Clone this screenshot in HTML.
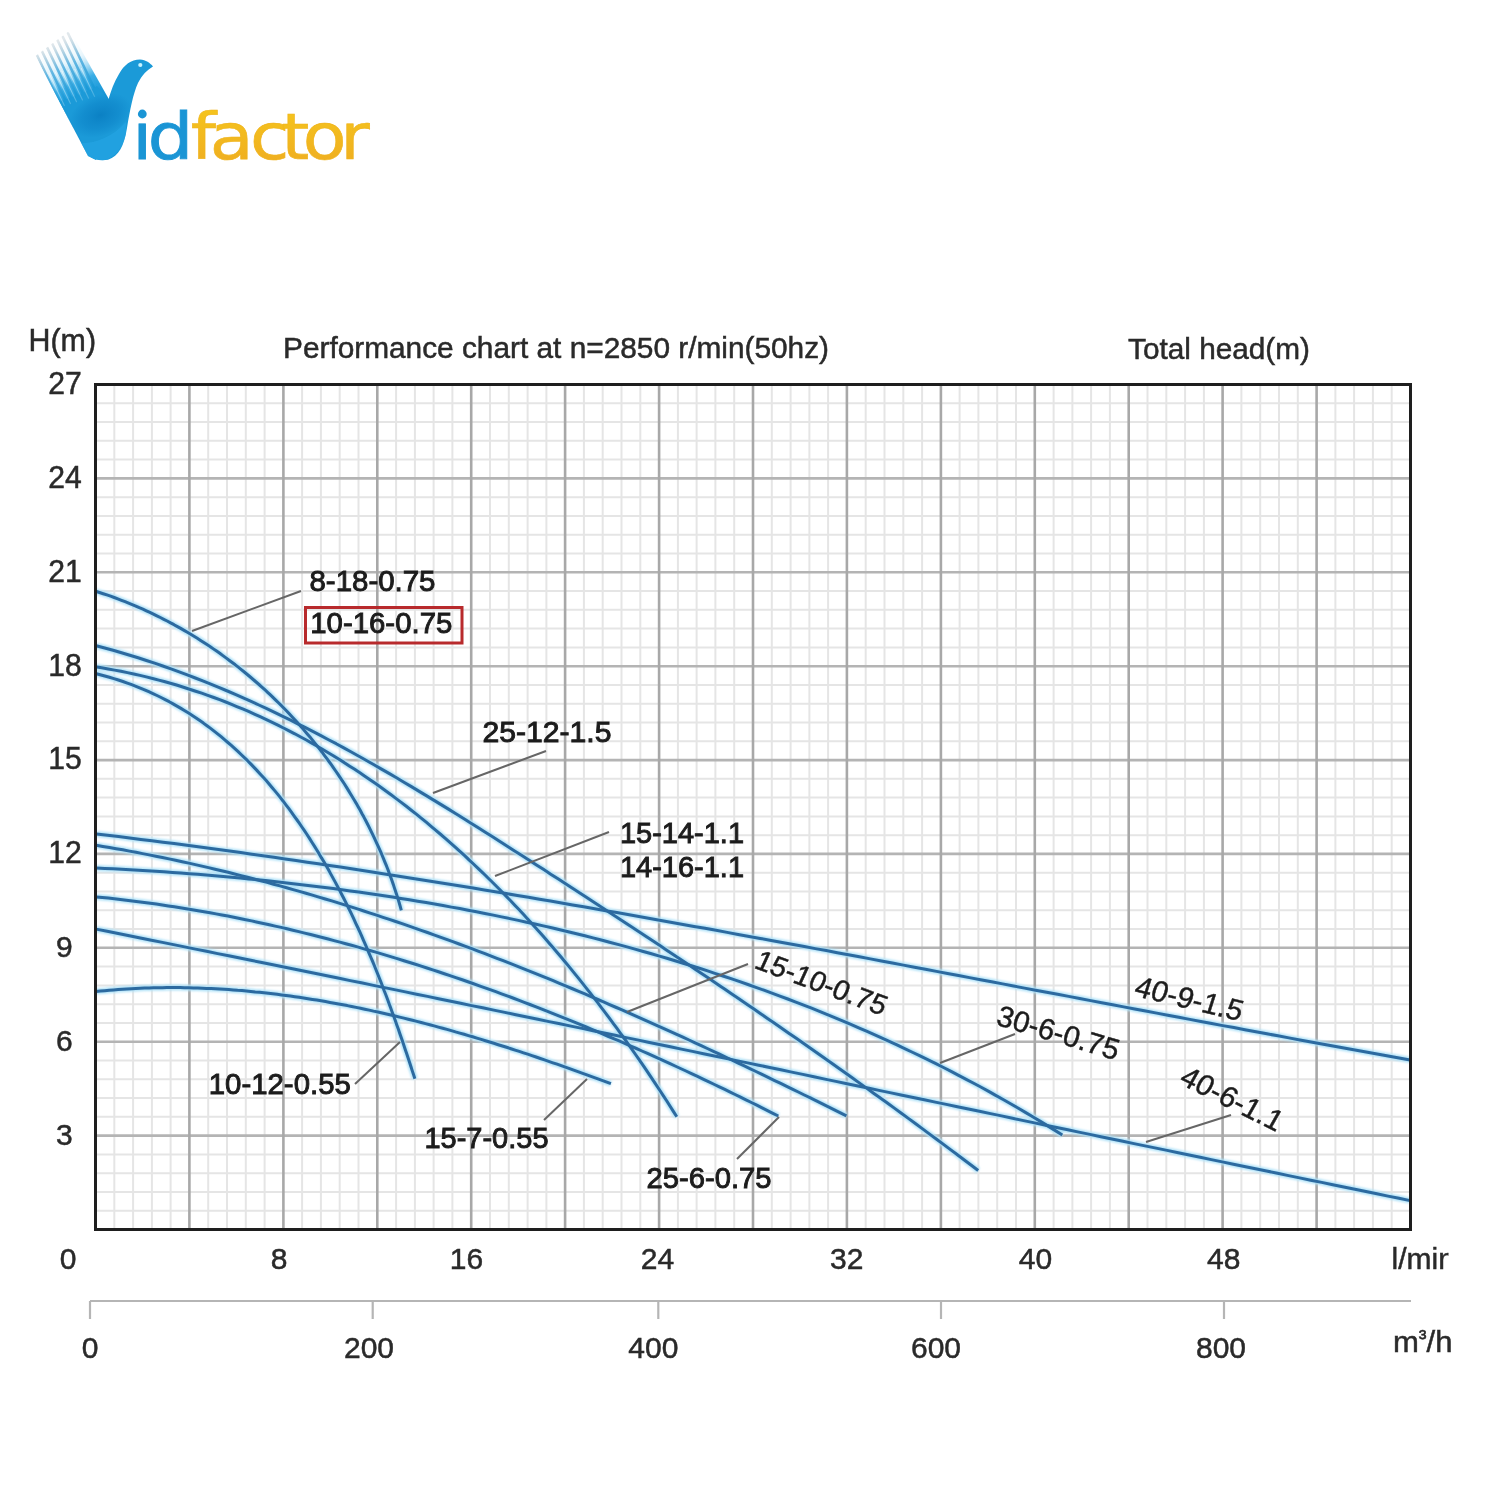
<!DOCTYPE html>
<html><head><meta charset="utf-8"><title>Vidfactor performance chart</title>
<style>
html,body{margin:0;padding:0;background:#fff;}
body{width:1500px;height:1500px;overflow:hidden;}
svg{display:block;}
#wrap{width:1500px;height:1500px;}
.t{font-family:"Liberation Sans",Arial,Helvetica,sans-serif;fill:#2a2a2a;stroke:#2a2a2a;stroke-width:0.5px;}
.lab{fill:#1c1c1c;stroke:#1c1c1c;stroke-width:0.95px;}
</style></head><body>
<div id="wrap"><svg width="1500" height="1500" viewBox="0 0 1500 1500">
<defs>
<linearGradient id="gf" x1="0" y1="0" x2="0" y2="1"><stop offset="0" stop-color="#f6c81c"/><stop offset="1" stop-color="#eeaa22"/></linearGradient>
<linearGradient id="gb" x1="0" y1="0" x2="0" y2="1"><stop offset="0" stop-color="#1ea6e0"/><stop offset="1" stop-color="#1690d0"/></linearGradient>
<linearGradient id="feather" x1="0" y1="0" x2="1" y2="1"><stop offset="0" stop-color="#ffffff" stop-opacity="0"/><stop offset="0.55" stop-color="#6cc4ee"/><stop offset="1" stop-color="#1a9ad8"/></linearGradient>
<filter id="glow" x="-5%" y="-5%" width="110%" height="110%"><feGaussianBlur stdDeviation="1.3"/></filter>
<clipPath id="plotclip"><rect x="95" y="384" width="1316" height="846"/></clipPath>
<clipPath id="rclip"><rect x="0" y="0" width="1448.5" height="1500"/></clipPath>
</defs>
<rect width="1500" height="1500" fill="#fff"/>
<g id="logo">
<clipPath id="armclip"><path d="M35.5,56 L67.5,32 L72,33.5 L109,99.5 L96,160 L88,156 Z"/></clipPath>
<linearGradient id="armg" gradientUnits="userSpaceOnUse" x1="52" y1="44" x2="80" y2="103"><stop offset="0" stop-color="#ffffff" stop-opacity="0"/><stop offset="0.35" stop-color="#bfe6f7" stop-opacity="0.35"/><stop offset="0.7" stop-color="#3aaee6"/><stop offset="1" stop-color="#1896d6"/></linearGradient>
<linearGradient id="featg" gradientUnits="userSpaceOnUse" x1="52" y1="44" x2="80" y2="103"><stop offset="0" stop-color="#aabdc8" stop-opacity="0.35"/><stop offset="0.4" stop-color="#62b6e2"/><stop offset="0.85" stop-color="#1a9ad8"/></linearGradient>
<linearGradient id="streakg" gradientUnits="userSpaceOnUse" x1="52" y1="44" x2="80" y2="103"><stop offset="0.2" stop-color="#ffffff" stop-opacity="0.9"/><stop offset="1" stop-color="#e0f8ff" stop-opacity="0.2"/></linearGradient>
<g clip-path="url(#armclip)">
<rect x="30" y="28" width="90" height="135" fill="url(#armg)"/>
<g stroke="url(#featg)" stroke-width="2.6" stroke-linecap="round" fill="none"><path d="M36.8,54.8 L71.2,127.0"/><path d="M42.0,51.2 L76.4,123.4"/><path d="M47.2,47.6 L81.6,119.8"/><path d="M52.4,44.0 L86.8,116.2"/><path d="M57.6,40.4 L92.0,112.6"/><path d="M62.8,36.8 L97.2,109.0"/><path d="M68.0,33.2 L102.4,105.4"/></g>
</g>
<path d="M60,101 C72,97 86,93 97,86 L108.5,99.5 C111,91 114,82 119,74 C124,65 131,59.6 140,59.6 C146,60 150,63 153,66.5 C147,70 142,75 138,83 C133,94 130,110 127,128 C124,146 119,156 108,159.8 C101,161 94,160 89,155.5 Z" fill="#1b9ad8"/>
<g stroke="url(#streakg)" stroke-width="1.1" stroke-linecap="round" fill="none"><path d="M48.9,72.9 L64.3,105.4"/><path d="M55.3,72.0 L70.4,103.6"/><path d="M61.8,71.1 L76.5,101.8"/><path d="M68.3,70.2 L82.5,100.0"/><path d="M74.8,69.3 L88.6,98.2"/><path d="M81.3,68.4 L94.6,96.4"/></g>
<radialGradient id="wingdark" gradientUnits="userSpaceOnUse" cx="100" cy="116" r="26" gradientTransform="translate(100,116) scale(1.25,0.8) rotate(-18) translate(-100,-116)"><stop offset="0" stop-color="#0678bd" stop-opacity="0.75"/><stop offset="0.6" stop-color="#0a7fc4" stop-opacity="0.45"/><stop offset="1" stop-color="#0a7fc4" stop-opacity="0"/></radialGradient>
<clipPath id="bodyclip"><path d="M60,101 C72,97 86,93 97,86 L108.5,99.5 C111,91 114,82 119,74 C124,65 131,59.6 140,59.6 C146,60 150,63 153,66.5 C147,70 142,75 138,83 C133,94 130,110 127,128 C124,146 119,156 108,159.8 C101,161 94,160 89,155.5 Z M35.5,56 L67.5,32 L72,33.5 L109,99.5 L96,160 L88,156 Z"/></clipPath>
<g clip-path="url(#bodyclip)">
<ellipse cx="98" cy="114" rx="34" ry="22" transform="rotate(-20 98 114)" fill="url(#wingdark)"/>
<path d="M72,142 C88,146 110,140 126,122 L126,136 C120,152 112,160 100,161 C90,160 80,152 72,142 Z" fill="#27a6e6" opacity="0.6"/>
</g>
<circle cx="140.3" cy="65" r="2.1" fill="#c8f3ff"/>
<clipPath id="idclip"><path clip-rule="evenodd" d="M100,90 H400 V175 H100 Z M137,107.5 H148 V120.5 H137 Z"/></clipPath>
<g clip-path="url(#idclip)"><text x="118.0 131.9 170.3 187.2 223.3 251.1 270.3 303.8" y="159" transform="scale(1.12,1)" font-family="'DejaVu Sans',sans-serif" font-size="64" fill="#1a95d5" stroke="#1a95d5" stroke-width="0.9">id<tspan fill="url(#gf)" stroke="#f0b41e" stroke-width="0.6">factor</tspan></text></g>
<circle cx="142.3" cy="114" r="4.4" fill="#1a95d5"/>
</g>
<g stroke="#e5e5e5" stroke-width="2"><line x1="114.3" y1="384.5" x2="114.3" y2="1229.5"/><line x1="133.1" y1="384.5" x2="133.1" y2="1229.5"/><line x1="151.9" y1="384.5" x2="151.9" y2="1229.5"/><line x1="170.6" y1="384.5" x2="170.6" y2="1229.5"/><line x1="208.2" y1="384.5" x2="208.2" y2="1229.5"/><line x1="227.0" y1="384.5" x2="227.0" y2="1229.5"/><line x1="245.8" y1="384.5" x2="245.8" y2="1229.5"/><line x1="264.6" y1="384.5" x2="264.6" y2="1229.5"/><line x1="302.1" y1="384.5" x2="302.1" y2="1229.5"/><line x1="320.9" y1="384.5" x2="320.9" y2="1229.5"/><line x1="339.7" y1="384.5" x2="339.7" y2="1229.5"/><line x1="358.5" y1="384.5" x2="358.5" y2="1229.5"/><line x1="396.1" y1="384.5" x2="396.1" y2="1229.5"/><line x1="414.9" y1="384.5" x2="414.9" y2="1229.5"/><line x1="433.6" y1="384.5" x2="433.6" y2="1229.5"/><line x1="452.4" y1="384.5" x2="452.4" y2="1229.5"/><line x1="490.0" y1="384.5" x2="490.0" y2="1229.5"/><line x1="508.8" y1="384.5" x2="508.8" y2="1229.5"/><line x1="527.6" y1="384.5" x2="527.6" y2="1229.5"/><line x1="546.4" y1="384.5" x2="546.4" y2="1229.5"/><line x1="583.9" y1="384.5" x2="583.9" y2="1229.5"/><line x1="602.7" y1="384.5" x2="602.7" y2="1229.5"/><line x1="621.5" y1="384.5" x2="621.5" y2="1229.5"/><line x1="640.3" y1="384.5" x2="640.3" y2="1229.5"/><line x1="677.9" y1="384.5" x2="677.9" y2="1229.5"/><line x1="696.6" y1="384.5" x2="696.6" y2="1229.5"/><line x1="715.4" y1="384.5" x2="715.4" y2="1229.5"/><line x1="734.2" y1="384.5" x2="734.2" y2="1229.5"/><line x1="771.8" y1="384.5" x2="771.8" y2="1229.5"/><line x1="790.6" y1="384.5" x2="790.6" y2="1229.5"/><line x1="809.4" y1="384.5" x2="809.4" y2="1229.5"/><line x1="828.1" y1="384.5" x2="828.1" y2="1229.5"/><line x1="865.7" y1="384.5" x2="865.7" y2="1229.5"/><line x1="884.5" y1="384.5" x2="884.5" y2="1229.5"/><line x1="903.3" y1="384.5" x2="903.3" y2="1229.5"/><line x1="922.1" y1="384.5" x2="922.1" y2="1229.5"/><line x1="959.6" y1="384.5" x2="959.6" y2="1229.5"/><line x1="978.4" y1="384.5" x2="978.4" y2="1229.5"/><line x1="997.2" y1="384.5" x2="997.2" y2="1229.5"/><line x1="1016.0" y1="384.5" x2="1016.0" y2="1229.5"/><line x1="1053.6" y1="384.5" x2="1053.6" y2="1229.5"/><line x1="1072.4" y1="384.5" x2="1072.4" y2="1229.5"/><line x1="1091.1" y1="384.5" x2="1091.1" y2="1229.5"/><line x1="1109.9" y1="384.5" x2="1109.9" y2="1229.5"/><line x1="1147.5" y1="384.5" x2="1147.5" y2="1229.5"/><line x1="1166.3" y1="384.5" x2="1166.3" y2="1229.5"/><line x1="1185.1" y1="384.5" x2="1185.1" y2="1229.5"/><line x1="1203.9" y1="384.5" x2="1203.9" y2="1229.5"/><line x1="1241.4" y1="384.5" x2="1241.4" y2="1229.5"/><line x1="1260.2" y1="384.5" x2="1260.2" y2="1229.5"/><line x1="1279.0" y1="384.5" x2="1279.0" y2="1229.5"/><line x1="1297.8" y1="384.5" x2="1297.8" y2="1229.5"/><line x1="1335.4" y1="384.5" x2="1335.4" y2="1229.5"/><line x1="1354.1" y1="384.5" x2="1354.1" y2="1229.5"/><line x1="1372.9" y1="384.5" x2="1372.9" y2="1229.5"/><line x1="1391.7" y1="384.5" x2="1391.7" y2="1229.5"/><line x1="95.5" y1="403.3" x2="1410.5" y2="403.3"/><line x1="95.5" y1="422.1" x2="1410.5" y2="422.1"/><line x1="95.5" y1="440.8" x2="1410.5" y2="440.8"/><line x1="95.5" y1="459.6" x2="1410.5" y2="459.6"/><line x1="95.5" y1="497.2" x2="1410.5" y2="497.2"/><line x1="95.5" y1="515.9" x2="1410.5" y2="515.9"/><line x1="95.5" y1="534.7" x2="1410.5" y2="534.7"/><line x1="95.5" y1="553.5" x2="1410.5" y2="553.5"/><line x1="95.5" y1="591.1" x2="1410.5" y2="591.1"/><line x1="95.5" y1="609.8" x2="1410.5" y2="609.8"/><line x1="95.5" y1="628.6" x2="1410.5" y2="628.6"/><line x1="95.5" y1="647.4" x2="1410.5" y2="647.4"/><line x1="95.5" y1="684.9" x2="1410.5" y2="684.9"/><line x1="95.5" y1="703.7" x2="1410.5" y2="703.7"/><line x1="95.5" y1="722.5" x2="1410.5" y2="722.5"/><line x1="95.5" y1="741.3" x2="1410.5" y2="741.3"/><line x1="95.5" y1="778.8" x2="1410.5" y2="778.8"/><line x1="95.5" y1="797.6" x2="1410.5" y2="797.6"/><line x1="95.5" y1="816.4" x2="1410.5" y2="816.4"/><line x1="95.5" y1="835.2" x2="1410.5" y2="835.2"/><line x1="95.5" y1="872.7" x2="1410.5" y2="872.7"/><line x1="95.5" y1="891.5" x2="1410.5" y2="891.5"/><line x1="95.5" y1="910.3" x2="1410.5" y2="910.3"/><line x1="95.5" y1="929.1" x2="1410.5" y2="929.1"/><line x1="95.5" y1="966.6" x2="1410.5" y2="966.6"/><line x1="95.5" y1="985.4" x2="1410.5" y2="985.4"/><line x1="95.5" y1="1004.2" x2="1410.5" y2="1004.2"/><line x1="95.5" y1="1022.9" x2="1410.5" y2="1022.9"/><line x1="95.5" y1="1060.5" x2="1410.5" y2="1060.5"/><line x1="95.5" y1="1079.3" x2="1410.5" y2="1079.3"/><line x1="95.5" y1="1098.1" x2="1410.5" y2="1098.1"/><line x1="95.5" y1="1116.8" x2="1410.5" y2="1116.8"/><line x1="95.5" y1="1154.4" x2="1410.5" y2="1154.4"/><line x1="95.5" y1="1173.2" x2="1410.5" y2="1173.2"/><line x1="95.5" y1="1191.9" x2="1410.5" y2="1191.9"/><line x1="95.5" y1="1210.7" x2="1410.5" y2="1210.7"/></g>
<g stroke="#b4b4b4" stroke-width="2.6"><line x1="95.5" y1="478.4" x2="1410.5" y2="478.4"/><line x1="95.5" y1="572.3" x2="1410.5" y2="572.3"/><line x1="95.5" y1="666.2" x2="1410.5" y2="666.2"/><line x1="95.5" y1="760.1" x2="1410.5" y2="760.1"/><line x1="95.5" y1="853.9" x2="1410.5" y2="853.9"/><line x1="95.5" y1="947.8" x2="1410.5" y2="947.8"/><line x1="95.5" y1="1041.7" x2="1410.5" y2="1041.7"/><line x1="95.5" y1="1135.6" x2="1410.5" y2="1135.6"/></g>
<g stroke="#a8a8a8" stroke-width="2.6"><line x1="189.4" y1="384.5" x2="189.4" y2="1229.5"/><line x1="283.4" y1="384.5" x2="283.4" y2="1229.5"/><line x1="377.3" y1="384.5" x2="377.3" y2="1229.5"/><line x1="471.2" y1="384.5" x2="471.2" y2="1229.5"/><line x1="565.1" y1="384.5" x2="565.1" y2="1229.5"/><line x1="659.1" y1="384.5" x2="659.1" y2="1229.5"/><line x1="753.0" y1="384.5" x2="753.0" y2="1229.5"/><line x1="846.9" y1="384.5" x2="846.9" y2="1229.5"/><line x1="940.9" y1="384.5" x2="940.9" y2="1229.5"/><line x1="1034.8" y1="384.5" x2="1034.8" y2="1229.5"/><line x1="1128.7" y1="384.5" x2="1128.7" y2="1229.5"/><line x1="1222.6" y1="384.5" x2="1222.6" y2="1229.5"/><line x1="1316.6" y1="384.5" x2="1316.6" y2="1229.5"/></g>
<g clip-path="url(#plotclip)" fill="none" stroke-linecap="butt" stroke-linejoin="round">
<g filter="url(#glow)"><path d="M95.8,591.3 L99.5,592.5 L103.2,593.7 L106.9,594.9 L110.6,596.2 L114.2,597.5 L117.8,598.9 L121.5,600.3 L125.1,601.7 L128.6,603.1 L132.2,604.6 L135.8,606.1 L139.3,607.7 L142.9,609.2 L146.4,610.8 L149.9,612.4 L153.4,614.1 L156.9,615.8 L160.3,617.5 L163.8,619.3 L167.2,621.0 L170.6,622.9 L174.0,624.7 L177.4,626.6 L180.7,628.4 L184.1,630.4 L187.4,632.3 L190.7,634.3 L194.0,636.3 L197.3,638.3 L200.6,640.4 L203.8,642.5 L207.0,644.6 L210.3,646.7 L213.4,648.9 L216.6,651.1 L219.8,653.3 L222.9,655.6 L226.0,657.9 L229.1,660.2 L232.2,662.5 L235.3,664.8 L238.3,667.2 L241.3,669.6 L244.3,672.0 L247.3,674.5 L250.3,677.0 L253.2,679.5 L256.1,682.0 L259.0,684.5 L261.9,687.1 L264.8,689.7 L267.6,692.3 L270.4,694.9 L273.2,697.6 L276.0,700.3 L278.7,703.0 L281.5,705.7 L284.2,708.5 L286.9,711.2 L289.5,714.0 L292.2,716.9 L294.8,719.7 L297.4,722.5 L300.0,725.4 L302.5,728.3 L305.0,731.2 L307.5,734.2 L310.0,737.1 L312.5,740.1 L314.9,743.1 L317.3,746.1 L319.7,749.2 L322.1,752.2 L324.4,755.3 L326.7,758.4 L329.0,761.5 L331.3,764.7 L333.5,767.8 L335.7,771.0 L337.9,774.2 L340.0,777.4 L342.2,780.6 L344.3,783.8 L346.4,787.1 L348.4,790.4 L350.4,793.7 L352.4,797.0 L354.4,800.3 L356.4,803.6 L358.3,807.0 L360.2,810.3 L362.0,813.7 L363.9,817.1 L365.7,820.5 L367.5,824.0 L369.2,827.4 L370.9,830.9 L372.6,834.4 L374.3,837.8 L375.9,841.3 L377.5,844.9 L379.1,848.4 L380.7,851.9 L382.2,855.5 L383.7,859.1 L385.1,862.6 L386.6,866.2 L388.0,869.8 L389.3,873.5 L390.7,877.1 L392.0,880.7 L393.3,884.4 L394.5,888.1 L395.7,891.7 L396.9,895.4 L398.1,899.1 L399.2,902.8 L400.3,906.6 L401.3,910.3" stroke="#b0e2f8" stroke-width="6"/>
<path d="M96.2,645.8 L104.7,648.0 L113.1,650.3 L121.5,652.8 L129.8,655.3 L138.1,657.8 L146.4,660.5 L154.6,663.2 L162.8,666.0 L171.0,668.9 L179.2,671.9 L187.3,674.9 L195.3,678.0 L203.4,681.1 L211.4,684.4 L219.4,687.7 L227.4,691.0 L235.3,694.4 L243.2,697.9 L251.1,701.4 L258.9,705.0 L266.8,708.7 L274.6,712.4 L282.3,716.1 L290.1,719.9 L297.8,723.8 L305.5,727.7 L313.2,731.6 L320.9,735.6 L328.5,739.7 L336.2,743.7 L343.8,747.9 L351.3,752.0 L358.9,756.2 L366.5,760.5 L374.0,764.7 L381.5,769.1 L389.0,773.4 L396.5,777.8 L403.9,782.2 L411.4,786.6 L418.8,791.1 L426.3,795.6 L433.7,800.1 L441.1,804.6 L448.5,809.1 L455.9,813.7 L463.2,818.3 L470.6,822.9 L477.9,827.6 L485.3,832.2 L492.6,836.8 L499.9,841.5 L507.3,846.2 L514.6,850.9 L521.9,855.5 L529.2,860.2 L536.5,864.9 L543.8,869.6 L551.1,874.4 L558.4,879.1 L565.6,883.8 L572.9,888.5 L580.2,893.2 L587.5,898.0 L594.7,902.7 L602.0,907.4 L609.2,912.2 L616.5,916.9 L623.7,921.7 L631.0,926.5 L638.2,931.2 L645.4,936.0 L652.7,940.8 L659.9,945.6 L667.1,950.4 L674.3,955.2 L681.5,960.0 L688.7,964.8 L695.9,969.7 L703.1,974.5 L710.3,979.3 L717.4,984.2 L724.6,989.1 L731.8,993.9 L738.9,998.8 L746.1,1003.7 L753.2,1008.6 L760.3,1013.5 L767.5,1018.4 L774.6,1023.3 L781.7,1028.2 L788.8,1033.2 L795.9,1038.1 L803.0,1043.1 L810.1,1048.0 L817.2,1053.0 L824.3,1058.0 L831.4,1063.0 L838.4,1068.0 L845.5,1073.0 L852.5,1078.0 L859.6,1083.1 L866.6,1088.1 L873.6,1093.2 L880.7,1098.2 L887.7,1103.3 L894.7,1108.4 L901.7,1113.5 L908.7,1118.6 L915.7,1123.8 L922.6,1128.9 L929.6,1134.1 L936.6,1139.2 L943.5,1144.4 L950.5,1149.6 L957.4,1154.8 L964.3,1160.0 L971.3,1165.2 L978.2,1170.5" stroke="#b0e2f8" stroke-width="6"/>
<path d="M95.2,666.8 L101.7,667.8 L108.2,668.9 L114.6,670.1 L121.0,671.3 L127.4,672.6 L133.7,674.0 L140.0,675.4 L146.3,676.9 L152.6,678.5 L158.8,680.1 L165.1,681.8 L171.2,683.5 L177.4,685.3 L183.5,687.2 L189.6,689.2 L195.7,691.2 L201.7,693.2 L207.8,695.3 L213.8,697.5 L219.7,699.7 L225.7,702.0 L231.6,704.4 L237.4,706.8 L243.3,709.2 L249.1,711.7 L254.9,714.3 L260.7,716.9 L266.4,719.6 L272.2,722.3 L277.9,725.1 L283.5,728.0 L289.1,730.9 L294.8,733.8 L300.3,736.8 L305.9,739.8 L311.4,742.9 L316.9,746.0 L322.4,749.2 L327.8,752.5 L333.3,755.7 L338.6,759.1 L344.0,762.4 L349.3,765.9 L354.7,769.3 L359.9,772.8 L365.2,776.4 L370.4,780.0 L375.6,783.6 L380.8,787.3 L385.9,791.0 L391.1,794.8 L396.2,798.6 L401.2,802.4 L406.3,806.3 L411.3,810.2 L416.3,814.2 L421.2,818.2 L426.2,822.2 L431.1,826.3 L435.9,830.4 L440.8,834.5 L445.6,838.7 L450.4,842.9 L455.2,847.1 L459.9,851.4 L464.7,855.7 L469.3,860.1 L474.0,864.5 L478.6,868.9 L483.3,873.3 L487.8,877.8 L492.4,882.3 L496.9,886.8 L501.4,891.3 L505.9,895.9 L510.4,900.5 L514.8,905.2 L519.2,909.8 L523.6,914.5 L527.9,919.2 L532.2,924.0 L536.5,928.7 L540.8,933.5 L545.0,938.3 L549.2,943.2 L553.4,948.0 L557.6,952.9 L561.7,957.8 L565.8,962.7 L569.9,967.6 L573.9,972.6 L578.0,977.6 L582.0,982.6 L585.9,987.6 L589.9,992.6 L593.8,997.6 L597.7,1002.7 L601.6,1007.8 L605.4,1012.8 L609.2,1017.9 L613.0,1023.1 L616.8,1028.2 L620.5,1033.3 L624.3,1038.5 L627.9,1043.6 L631.6,1048.8 L635.2,1054.0 L638.8,1059.2 L642.4,1064.4 L646.0,1069.6 L649.5,1074.8 L653.0,1080.1 L656.5,1085.3 L659.9,1090.5 L663.4,1095.8 L666.8,1101.0 L670.1,1106.3 L673.5,1111.6 L676.8,1116.8" stroke="#b0e2f8" stroke-width="6"/>
<path d="M95.5,673.5 L100.2,674.7 L104.8,676.0 L109.4,677.2 L113.9,678.6 L118.4,680.0 L122.9,681.5 L127.3,683.1 L131.7,684.7 L136.0,686.3 L140.3,688.1 L144.6,689.8 L148.8,691.7 L152.9,693.6 L157.0,695.5 L161.1,697.5 L165.2,699.6 L169.2,701.7 L173.1,703.9 L177.0,706.1 L180.9,708.4 L184.8,710.7 L188.6,713.1 L192.3,715.5 L196.1,718.0 L199.8,720.6 L203.4,723.1 L207.0,725.8 L210.6,728.4 L214.1,731.1 L217.6,733.9 L221.1,736.7 L224.5,739.6 L227.9,742.5 L231.3,745.4 L234.6,748.4 L237.9,751.4 L241.1,754.5 L244.4,757.6 L247.6,760.7 L250.7,763.9 L253.8,767.1 L256.9,770.4 L259.9,773.7 L263.0,777.0 L266.0,780.3 L268.9,783.7 L271.8,787.2 L274.7,790.6 L277.6,794.1 L280.4,797.7 L283.2,801.2 L285.9,804.8 L288.7,808.4 L291.4,812.1 L294.0,815.8 L296.7,819.5 L299.3,823.2 L301.9,827.0 L304.4,830.7 L307.0,834.5 L309.5,838.4 L311.9,842.2 L314.4,846.1 L316.8,850.0 L319.2,853.9 L321.5,857.9 L323.9,861.8 L326.2,865.8 L328.5,869.8 L330.7,873.9 L332.9,877.9 L335.1,881.9 L337.3,886.0 L339.5,890.1 L341.6,894.2 L343.7,898.3 L345.8,902.4 L347.8,906.6 L349.9,910.7 L351.9,914.9 L353.9,919.1 L355.8,923.3 L357.8,927.5 L359.7,931.7 L361.6,935.9 L363.4,940.1 L365.3,944.3 L367.1,948.5 L368.9,952.8 L370.7,957.0 L372.5,961.2 L374.3,965.5 L376.0,969.7 L377.7,974.0 L379.4,978.2 L381.1,982.5 L382.7,986.7 L384.3,991.0 L386.0,995.2 L387.6,999.5 L389.1,1003.7 L390.7,1008.0 L392.2,1012.2 L393.8,1016.4 L395.3,1020.6 L396.8,1024.9 L398.3,1029.1 L399.7,1033.3 L401.2,1037.5 L402.6,1041.6 L404.0,1045.8 L405.4,1050.0 L406.8,1054.1 L408.2,1058.3 L409.6,1062.4 L410.9,1066.5 L412.2,1070.6 L413.6,1074.7 L414.9,1078.7" stroke="#b0e2f8" stroke-width="6"/>
<path d="M96.4,833.9 L107.5,835.2 L118.6,836.6 L129.7,838.0 L140.8,839.4 L151.9,840.8 L163.0,842.2 L174.1,843.6 L185.2,845.1 L196.3,846.6 L207.4,848.1 L218.5,849.6 L229.6,851.1 L240.7,852.6 L251.8,854.2 L262.9,855.8 L274.0,857.3 L285.1,858.9 L296.1,860.6 L307.2,862.2 L318.3,863.8 L329.4,865.5 L340.4,867.1 L351.5,868.8 L362.6,870.5 L373.7,872.2 L384.7,873.9 L395.8,875.7 L406.8,877.4 L417.9,879.2 L429.0,880.9 L440.0,882.7 L451.1,884.5 L462.1,886.3 L473.2,888.1 L484.3,889.9 L495.3,891.8 L506.4,893.6 L517.4,895.5 L528.5,897.3 L539.5,899.2 L550.5,901.1 L561.6,903.0 L572.6,904.9 L583.7,906.8 L594.7,908.7 L605.7,910.7 L616.8,912.6 L627.8,914.5 L638.9,916.5 L649.9,918.4 L660.9,920.4 L672.0,922.4 L683.0,924.4 L694.0,926.4 L705.0,928.3 L716.1,930.3 L727.1,932.4 L738.1,934.4 L749.2,936.4 L760.2,938.4 L771.2,940.4 L782.2,942.5 L793.3,944.5 L804.3,946.5 L815.3,948.6 L826.3,950.6 L837.3,952.7 L848.4,954.8 L859.4,956.8 L870.4,958.9 L881.4,961.0 L892.4,963.0 L903.4,965.1 L914.5,967.2 L925.5,969.3 L936.5,971.4 L947.5,973.4 L958.5,975.5 L969.5,977.6 L980.5,979.7 L991.6,981.8 L1002.6,983.9 L1013.6,986.0 L1024.6,988.1 L1035.6,990.2 L1046.6,992.2 L1057.6,994.3 L1068.7,996.4 L1079.7,998.5 L1090.7,1000.6 L1101.7,1002.7 L1112.7,1004.8 L1123.7,1006.9 L1134.7,1009.0 L1145.7,1011.0 L1156.8,1013.1 L1167.8,1015.2 L1178.8,1017.3 L1189.8,1019.4 L1200.8,1021.4 L1211.8,1023.5 L1222.8,1025.6 L1233.9,1027.6 L1244.9,1029.7 L1255.9,1031.7 L1266.9,1033.8 L1277.9,1035.8 L1288.9,1037.9 L1299.9,1039.9 L1311.0,1041.9 L1322.0,1044.0 L1333.0,1046.0 L1344.0,1048.0 L1355.0,1050.0 L1366.1,1052.0 L1377.1,1054.0 L1388.1,1056.0 L1399.1,1058.0 L1410.1,1060.0" stroke="#b0e2f8" stroke-width="6"/>
<path d="M96.2,845.3 L102.8,846.4 L109.5,847.5 L116.1,848.7 L122.8,849.8 L129.4,851.1 L136.0,852.3 L142.6,853.6 L149.2,854.9 L155.9,856.2 L162.4,857.5 L169.0,858.9 L175.6,860.3 L182.2,861.7 L188.8,863.1 L195.3,864.6 L201.9,866.1 L208.5,867.6 L215.0,869.2 L221.5,870.8 L228.1,872.3 L234.6,874.0 L241.1,875.6 L247.6,877.3 L254.1,879.0 L260.7,880.7 L267.1,882.4 L273.6,884.2 L280.1,885.9 L286.6,887.7 L293.1,889.6 L299.5,891.4 L306.0,893.3 L312.4,895.1 L318.9,897.1 L325.3,899.0 L331.8,900.9 L338.2,902.9 L344.6,904.9 L351.0,906.9 L357.4,908.9 L363.8,911.0 L370.2,913.1 L376.6,915.1 L383.0,917.3 L389.4,919.4 L395.7,921.5 L402.1,923.7 L408.5,925.9 L414.8,928.1 L421.2,930.3 L427.5,932.5 L433.9,934.8 L440.2,937.1 L446.5,939.4 L452.8,941.7 L459.1,944.0 L465.5,946.3 L471.8,948.7 L478.1,951.1 L484.3,953.4 L490.6,955.9 L496.9,958.3 L503.2,960.7 L509.5,963.2 L515.7,965.6 L522.0,968.1 L528.2,970.6 L534.5,973.1 L540.7,975.6 L547.0,978.2 L553.2,980.7 L559.4,983.3 L565.6,985.9 L571.9,988.5 L578.1,991.1 L584.3,993.7 L590.5,996.3 L596.7,999.0 L602.9,1001.6 L609.0,1004.3 L615.2,1007.0 L621.4,1009.7 L627.6,1012.4 L633.7,1015.1 L639.9,1017.8 L646.0,1020.6 L652.2,1023.3 L658.3,1026.1 L664.5,1028.9 L670.6,1031.6 L676.7,1034.4 L682.9,1037.2 L689.0,1040.0 L695.1,1042.9 L701.2,1045.7 L707.3,1048.5 L713.4,1051.4 L719.5,1054.2 L725.6,1057.1 L731.7,1060.0 L737.7,1062.8 L743.8,1065.7 L749.9,1068.6 L756.0,1071.5 L762.0,1074.4 L768.1,1077.4 L774.1,1080.3 L780.2,1083.2 L786.2,1086.1 L792.3,1089.1 L798.3,1092.0 L804.3,1095.0 L810.4,1097.9 L816.4,1100.9 L822.4,1103.9 L828.4,1106.9 L834.4,1109.8 L840.4,1112.8 L846.4,1115.8" stroke="#b0e2f8" stroke-width="6"/>
<path d="M96.3,868.0 L104.7,868.4 L113.2,868.8 L121.6,869.3 L130.1,869.7 L138.6,870.2 L147.0,870.7 L155.5,871.3 L163.9,871.8 L172.4,872.4 L180.9,873.0 L189.4,873.7 L197.8,874.3 L206.3,875.0 L214.8,875.7 L223.2,876.5 L231.7,877.2 L240.2,878.0 L248.7,878.9 L257.1,879.7 L265.6,880.6 L274.1,881.5 L282.6,882.4 L291.0,883.4 L299.5,884.4 L308.0,885.4 L316.4,886.4 L324.9,887.5 L333.3,888.6 L341.8,889.7 L350.2,890.9 L358.7,892.0 L367.1,893.3 L375.6,894.5 L384.0,895.8 L392.5,897.1 L400.9,898.4 L409.3,899.8 L417.7,901.2 L426.1,902.6 L434.6,904.1 L443.0,905.5 L451.4,907.1 L459.8,908.6 L468.1,910.2 L476.5,911.8 L484.9,913.5 L493.3,915.1 L501.6,916.9 L510.0,918.6 L518.3,920.4 L526.6,922.2 L535.0,924.0 L543.3,925.9 L551.6,927.8 L559.9,929.8 L568.2,931.8 L576.5,933.8 L584.8,935.8 L593.0,937.9 L601.3,940.0 L609.5,942.2 L617.7,944.4 L626.0,946.6 L634.2,948.9 L642.4,951.2 L650.6,953.5 L658.7,955.9 L666.9,958.3 L675.1,960.8 L683.2,963.2 L691.3,965.8 L699.5,968.3 L707.6,970.9 L715.6,973.6 L723.7,976.2 L731.8,978.9 L739.8,981.7 L747.9,984.5 L755.9,987.3 L763.9,990.2 L771.9,993.1 L779.9,996.1 L787.8,999.0 L795.8,1002.1 L803.7,1005.1 L811.6,1008.2 L819.5,1011.4 L827.4,1014.6 L835.3,1017.8 L843.1,1021.1 L850.9,1024.4 L858.7,1027.8 L866.5,1031.2 L874.3,1034.6 L882.1,1038.1 L889.8,1041.6 L897.5,1045.2 L905.2,1048.8 L912.9,1052.5 L920.6,1056.2 L928.2,1059.9 L935.9,1063.7 L943.5,1067.5 L951.1,1071.4 L958.6,1075.3 L966.2,1079.3 L973.7,1083.3 L981.2,1087.3 L988.7,1091.4 L996.1,1095.6 L1003.6,1099.8 L1011.0,1104.0 L1018.4,1108.3 L1025.8,1112.6 L1033.1,1117.0 L1040.4,1121.4 L1047.7,1125.9 L1055.0,1130.4 L1062.3,1135.0" stroke="#b0e2f8" stroke-width="6"/>
<path d="M96.2,896.9 L102.2,897.5 L108.3,898.1 L114.3,898.8 L120.3,899.5 L126.3,900.2 L132.3,900.9 L138.3,901.7 L144.3,902.4 L150.3,903.3 L156.3,904.1 L162.3,905.0 L168.3,905.9 L174.3,906.8 L180.2,907.7 L186.2,908.7 L192.2,909.7 L198.1,910.7 L204.1,911.7 L210.1,912.8 L216.0,913.9 L221.9,915.0 L227.9,916.1 L233.8,917.3 L239.8,918.5 L245.7,919.7 L251.6,920.9 L257.5,922.2 L263.4,923.5 L269.3,924.8 L275.2,926.1 L281.1,927.4 L287.0,928.8 L292.9,930.2 L298.8,931.6 L304.7,933.1 L310.6,934.5 L316.4,936.0 L322.3,937.5 L328.2,939.0 L334.0,940.6 L339.9,942.1 L345.7,943.7 L351.5,945.3 L357.4,946.9 L363.2,948.6 L369.0,950.3 L374.9,951.9 L380.7,953.6 L386.5,955.4 L392.3,957.1 L398.1,958.9 L403.9,960.7 L409.7,962.5 L415.4,964.3 L421.2,966.1 L427.0,968.0 L432.7,969.9 L438.5,971.8 L444.3,973.7 L450.0,975.6 L455.8,977.6 L461.5,979.5 L467.2,981.5 L472.9,983.5 L478.7,985.6 L484.4,987.6 L490.1,989.7 L495.8,991.7 L501.5,993.8 L507.2,995.9 L512.9,998.0 L518.5,1000.2 L524.2,1002.3 L529.9,1004.5 L535.5,1006.7 L541.2,1008.9 L546.9,1011.1 L552.5,1013.3 L558.1,1015.6 L563.8,1017.8 L569.4,1020.1 L575.0,1022.4 L580.6,1024.7 L586.2,1027.0 L591.8,1029.4 L597.4,1031.7 L603.0,1034.1 L608.6,1036.5 L614.2,1038.8 L619.7,1041.2 L625.3,1043.7 L630.8,1046.1 L636.4,1048.5 L641.9,1051.0 L647.5,1053.4 L653.0,1055.9 L658.5,1058.4 L664.0,1060.9 L669.5,1063.4 L675.1,1066.0 L680.5,1068.5 L686.0,1071.0 L691.5,1073.6 L697.0,1076.2 L702.5,1078.8 L707.9,1081.4 L713.4,1084.0 L718.8,1086.6 L724.3,1089.2 L729.7,1091.8 L735.1,1094.5 L740.5,1097.1 L746.0,1099.8 L751.4,1102.5 L756.8,1105.2 L762.1,1107.9 L767.5,1110.6 L772.9,1113.3 L778.3,1116.0" stroke="#b0e2f8" stroke-width="6"/>
<path d="M96.1,929.1 L107.2,931.3 L118.2,933.5 L129.3,935.7 L140.3,938.0 L151.4,940.2 L162.4,942.4 L173.5,944.6 L184.5,946.9 L195.6,949.1 L206.6,951.3 L217.7,953.6 L228.7,955.8 L239.8,958.0 L250.8,960.3 L261.8,962.5 L272.9,964.8 L283.9,967.0 L295.0,969.3 L306.0,971.5 L317.1,973.8 L328.1,976.0 L339.2,978.3 L350.2,980.6 L361.3,982.8 L372.3,985.1 L383.3,987.4 L394.4,989.6 L405.4,991.9 L416.5,994.2 L427.5,996.4 L438.5,998.7 L449.6,1001.0 L460.6,1003.3 L471.7,1005.6 L482.7,1007.8 L493.8,1010.1 L504.8,1012.4 L515.8,1014.7 L526.9,1017.0 L537.9,1019.3 L549.0,1021.6 L560.0,1023.8 L571.0,1026.1 L582.1,1028.4 L593.1,1030.7 L604.2,1033.0 L615.2,1035.3 L626.2,1037.6 L637.3,1039.9 L648.3,1042.2 L659.3,1044.5 L670.4,1046.8 L681.4,1049.1 L692.5,1051.4 L703.5,1053.7 L714.5,1056.0 L725.6,1058.3 L736.6,1060.6 L747.6,1062.9 L758.7,1065.2 L769.7,1067.5 L780.8,1069.8 L791.8,1072.1 L802.8,1074.4 L813.9,1076.7 L824.9,1079.1 L835.9,1081.4 L847.0,1083.7 L858.0,1086.0 L869.1,1088.3 L880.1,1090.6 L891.1,1092.9 L902.2,1095.2 L913.2,1097.5 L924.3,1099.8 L935.3,1102.1 L946.3,1104.4 L957.4,1106.7 L968.4,1109.0 L979.4,1111.3 L990.5,1113.6 L1001.5,1115.9 L1012.6,1118.3 L1023.6,1120.6 L1034.6,1122.9 L1045.7,1125.2 L1056.7,1127.5 L1067.8,1129.8 L1078.8,1132.1 L1089.8,1134.4 L1100.9,1136.7 L1111.9,1139.0 L1123.0,1141.3 L1134.0,1143.6 L1145.0,1145.9 L1156.1,1148.1 L1167.1,1150.4 L1178.2,1152.7 L1189.2,1155.0 L1200.2,1157.3 L1211.3,1159.6 L1222.3,1161.9 L1233.4,1164.2 L1244.4,1166.5 L1255.5,1168.8 L1266.5,1171.0 L1277.5,1173.3 L1288.6,1175.6 L1299.6,1177.9 L1310.7,1180.2 L1321.7,1182.4 L1332.8,1184.7 L1343.8,1187.0 L1354.9,1189.2 L1365.9,1191.5 L1376.9,1193.8 L1388.0,1196.1 L1399.0,1198.3 L1410.1,1200.6" stroke="#b0e2f8" stroke-width="6"/>
<path d="M95.9,991.6 L100.3,991.1 L104.8,990.7 L109.2,990.3 L113.6,989.9 L118.1,989.6 L122.5,989.3 L126.9,989.0 L131.4,988.7 L135.8,988.5 L140.2,988.3 L144.7,988.1 L149.1,988.0 L153.5,987.8 L157.9,987.7 L162.4,987.7 L166.8,987.6 L171.2,987.6 L175.7,987.6 L180.1,987.6 L184.5,987.7 L188.9,987.8 L193.4,987.9 L197.8,988.0 L202.2,988.2 L206.6,988.4 L211.1,988.6 L215.5,988.8 L219.9,989.0 L224.3,989.3 L228.7,989.6 L233.2,989.9 L237.6,990.3 L242.0,990.6 L246.4,991.0 L250.8,991.4 L255.2,991.9 L259.6,992.3 L264.0,992.8 L268.4,993.3 L272.8,993.8 L277.2,994.3 L281.6,994.9 L286.0,995.5 L290.4,996.1 L294.8,996.7 L299.2,997.3 L303.6,998.0 L308.0,998.7 L312.4,999.4 L316.8,1000.1 L321.1,1000.8 L325.5,1001.6 L329.9,1002.4 L334.3,1003.2 L338.6,1004.0 L343.0,1004.8 L347.4,1005.6 L351.7,1006.5 L356.1,1007.4 L360.5,1008.3 L364.8,1009.2 L369.2,1010.1 L373.5,1011.1 L377.9,1012.0 L382.2,1013.0 L386.5,1014.0 L390.9,1015.0 L395.2,1016.0 L399.6,1017.1 L403.9,1018.1 L408.2,1019.2 L412.5,1020.3 L416.8,1021.4 L421.2,1022.5 L425.5,1023.6 L429.8,1024.7 L434.1,1025.9 L438.4,1027.1 L442.7,1028.2 L447.0,1029.4 L451.3,1030.6 L455.5,1031.9 L459.8,1033.1 L464.1,1034.3 L468.4,1035.6 L472.6,1036.8 L476.9,1038.1 L481.2,1039.4 L485.4,1040.7 L489.7,1042.0 L493.9,1043.3 L498.2,1044.7 L502.4,1046.0 L506.6,1047.3 L510.9,1048.7 L515.1,1050.1 L519.3,1051.4 L523.5,1052.8 L527.7,1054.2 L531.9,1055.6 L536.1,1057.0 L540.3,1058.5 L544.5,1059.9 L548.7,1061.3 L552.9,1062.8 L557.1,1064.2 L561.2,1065.7 L565.4,1067.2 L569.6,1068.6 L573.7,1070.1 L577.9,1071.6 L582.0,1073.1 L586.2,1074.6 L590.3,1076.1 L594.4,1077.6 L598.6,1079.1 L602.7,1080.6 L606.8,1082.2 L610.9,1083.7" stroke="#b0e2f8" stroke-width="6"/>
</g><path d="M95.8,591.3 L99.5,592.5 L103.2,593.7 L106.9,594.9 L110.6,596.2 L114.2,597.5 L117.8,598.9 L121.5,600.3 L125.1,601.7 L128.6,603.1 L132.2,604.6 L135.8,606.1 L139.3,607.7 L142.9,609.2 L146.4,610.8 L149.9,612.4 L153.4,614.1 L156.9,615.8 L160.3,617.5 L163.8,619.3 L167.2,621.0 L170.6,622.9 L174.0,624.7 L177.4,626.6 L180.7,628.4 L184.1,630.4 L187.4,632.3 L190.7,634.3 L194.0,636.3 L197.3,638.3 L200.6,640.4 L203.8,642.5 L207.0,644.6 L210.3,646.7 L213.4,648.9 L216.6,651.1 L219.8,653.3 L222.9,655.6 L226.0,657.9 L229.1,660.2 L232.2,662.5 L235.3,664.8 L238.3,667.2 L241.3,669.6 L244.3,672.0 L247.3,674.5 L250.3,677.0 L253.2,679.5 L256.1,682.0 L259.0,684.5 L261.9,687.1 L264.8,689.7 L267.6,692.3 L270.4,694.9 L273.2,697.6 L276.0,700.3 L278.7,703.0 L281.5,705.7 L284.2,708.5 L286.9,711.2 L289.5,714.0 L292.2,716.9 L294.8,719.7 L297.4,722.5 L300.0,725.4 L302.5,728.3 L305.0,731.2 L307.5,734.2 L310.0,737.1 L312.5,740.1 L314.9,743.1 L317.3,746.1 L319.7,749.2 L322.1,752.2 L324.4,755.3 L326.7,758.4 L329.0,761.5 L331.3,764.7 L333.5,767.8 L335.7,771.0 L337.9,774.2 L340.0,777.4 L342.2,780.6 L344.3,783.8 L346.4,787.1 L348.4,790.4 L350.4,793.7 L352.4,797.0 L354.4,800.3 L356.4,803.6 L358.3,807.0 L360.2,810.3 L362.0,813.7 L363.9,817.1 L365.7,820.5 L367.5,824.0 L369.2,827.4 L370.9,830.9 L372.6,834.4 L374.3,837.8 L375.9,841.3 L377.5,844.9 L379.1,848.4 L380.7,851.9 L382.2,855.5 L383.7,859.1 L385.1,862.6 L386.6,866.2 L388.0,869.8 L389.3,873.5 L390.7,877.1 L392.0,880.7 L393.3,884.4 L394.5,888.1 L395.7,891.7 L396.9,895.4 L398.1,899.1 L399.2,902.8 L400.3,906.6 L401.3,910.3" stroke="#2c6aa0" stroke-width="3"/>
<path d="M96.2,645.8 L104.7,648.0 L113.1,650.3 L121.5,652.8 L129.8,655.3 L138.1,657.8 L146.4,660.5 L154.6,663.2 L162.8,666.0 L171.0,668.9 L179.2,671.9 L187.3,674.9 L195.3,678.0 L203.4,681.1 L211.4,684.4 L219.4,687.7 L227.4,691.0 L235.3,694.4 L243.2,697.9 L251.1,701.4 L258.9,705.0 L266.8,708.7 L274.6,712.4 L282.3,716.1 L290.1,719.9 L297.8,723.8 L305.5,727.7 L313.2,731.6 L320.9,735.6 L328.5,739.7 L336.2,743.7 L343.8,747.9 L351.3,752.0 L358.9,756.2 L366.5,760.5 L374.0,764.7 L381.5,769.1 L389.0,773.4 L396.5,777.8 L403.9,782.2 L411.4,786.6 L418.8,791.1 L426.3,795.6 L433.7,800.1 L441.1,804.6 L448.5,809.1 L455.9,813.7 L463.2,818.3 L470.6,822.9 L477.9,827.6 L485.3,832.2 L492.6,836.8 L499.9,841.5 L507.3,846.2 L514.6,850.9 L521.9,855.5 L529.2,860.2 L536.5,864.9 L543.8,869.6 L551.1,874.4 L558.4,879.1 L565.6,883.8 L572.9,888.5 L580.2,893.2 L587.5,898.0 L594.7,902.7 L602.0,907.4 L609.2,912.2 L616.5,916.9 L623.7,921.7 L631.0,926.5 L638.2,931.2 L645.4,936.0 L652.7,940.8 L659.9,945.6 L667.1,950.4 L674.3,955.2 L681.5,960.0 L688.7,964.8 L695.9,969.7 L703.1,974.5 L710.3,979.3 L717.4,984.2 L724.6,989.1 L731.8,993.9 L738.9,998.8 L746.1,1003.7 L753.2,1008.6 L760.3,1013.5 L767.5,1018.4 L774.6,1023.3 L781.7,1028.2 L788.8,1033.2 L795.9,1038.1 L803.0,1043.1 L810.1,1048.0 L817.2,1053.0 L824.3,1058.0 L831.4,1063.0 L838.4,1068.0 L845.5,1073.0 L852.5,1078.0 L859.6,1083.1 L866.6,1088.1 L873.6,1093.2 L880.7,1098.2 L887.7,1103.3 L894.7,1108.4 L901.7,1113.5 L908.7,1118.6 L915.7,1123.8 L922.6,1128.9 L929.6,1134.1 L936.6,1139.2 L943.5,1144.4 L950.5,1149.6 L957.4,1154.8 L964.3,1160.0 L971.3,1165.2 L978.2,1170.5" stroke="#2c6aa0" stroke-width="3"/>
<path d="M95.2,666.8 L101.7,667.8 L108.2,668.9 L114.6,670.1 L121.0,671.3 L127.4,672.6 L133.7,674.0 L140.0,675.4 L146.3,676.9 L152.6,678.5 L158.8,680.1 L165.1,681.8 L171.2,683.5 L177.4,685.3 L183.5,687.2 L189.6,689.2 L195.7,691.2 L201.7,693.2 L207.8,695.3 L213.8,697.5 L219.7,699.7 L225.7,702.0 L231.6,704.4 L237.4,706.8 L243.3,709.2 L249.1,711.7 L254.9,714.3 L260.7,716.9 L266.4,719.6 L272.2,722.3 L277.9,725.1 L283.5,728.0 L289.1,730.9 L294.8,733.8 L300.3,736.8 L305.9,739.8 L311.4,742.9 L316.9,746.0 L322.4,749.2 L327.8,752.5 L333.3,755.7 L338.6,759.1 L344.0,762.4 L349.3,765.9 L354.7,769.3 L359.9,772.8 L365.2,776.4 L370.4,780.0 L375.6,783.6 L380.8,787.3 L385.9,791.0 L391.1,794.8 L396.2,798.6 L401.2,802.4 L406.3,806.3 L411.3,810.2 L416.3,814.2 L421.2,818.2 L426.2,822.2 L431.1,826.3 L435.9,830.4 L440.8,834.5 L445.6,838.7 L450.4,842.9 L455.2,847.1 L459.9,851.4 L464.7,855.7 L469.3,860.1 L474.0,864.5 L478.6,868.9 L483.3,873.3 L487.8,877.8 L492.4,882.3 L496.9,886.8 L501.4,891.3 L505.9,895.9 L510.4,900.5 L514.8,905.2 L519.2,909.8 L523.6,914.5 L527.9,919.2 L532.2,924.0 L536.5,928.7 L540.8,933.5 L545.0,938.3 L549.2,943.2 L553.4,948.0 L557.6,952.9 L561.7,957.8 L565.8,962.7 L569.9,967.6 L573.9,972.6 L578.0,977.6 L582.0,982.6 L585.9,987.6 L589.9,992.6 L593.8,997.6 L597.7,1002.7 L601.6,1007.8 L605.4,1012.8 L609.2,1017.9 L613.0,1023.1 L616.8,1028.2 L620.5,1033.3 L624.3,1038.5 L627.9,1043.6 L631.6,1048.8 L635.2,1054.0 L638.8,1059.2 L642.4,1064.4 L646.0,1069.6 L649.5,1074.8 L653.0,1080.1 L656.5,1085.3 L659.9,1090.5 L663.4,1095.8 L666.8,1101.0 L670.1,1106.3 L673.5,1111.6 L676.8,1116.8" stroke="#2c6aa0" stroke-width="3"/>
<path d="M95.5,673.5 L100.2,674.7 L104.8,676.0 L109.4,677.2 L113.9,678.6 L118.4,680.0 L122.9,681.5 L127.3,683.1 L131.7,684.7 L136.0,686.3 L140.3,688.1 L144.6,689.8 L148.8,691.7 L152.9,693.6 L157.0,695.5 L161.1,697.5 L165.2,699.6 L169.2,701.7 L173.1,703.9 L177.0,706.1 L180.9,708.4 L184.8,710.7 L188.6,713.1 L192.3,715.5 L196.1,718.0 L199.8,720.6 L203.4,723.1 L207.0,725.8 L210.6,728.4 L214.1,731.1 L217.6,733.9 L221.1,736.7 L224.5,739.6 L227.9,742.5 L231.3,745.4 L234.6,748.4 L237.9,751.4 L241.1,754.5 L244.4,757.6 L247.6,760.7 L250.7,763.9 L253.8,767.1 L256.9,770.4 L259.9,773.7 L263.0,777.0 L266.0,780.3 L268.9,783.7 L271.8,787.2 L274.7,790.6 L277.6,794.1 L280.4,797.7 L283.2,801.2 L285.9,804.8 L288.7,808.4 L291.4,812.1 L294.0,815.8 L296.7,819.5 L299.3,823.2 L301.9,827.0 L304.4,830.7 L307.0,834.5 L309.5,838.4 L311.9,842.2 L314.4,846.1 L316.8,850.0 L319.2,853.9 L321.5,857.9 L323.9,861.8 L326.2,865.8 L328.5,869.8 L330.7,873.9 L332.9,877.9 L335.1,881.9 L337.3,886.0 L339.5,890.1 L341.6,894.2 L343.7,898.3 L345.8,902.4 L347.8,906.6 L349.9,910.7 L351.9,914.9 L353.9,919.1 L355.8,923.3 L357.8,927.5 L359.7,931.7 L361.6,935.9 L363.4,940.1 L365.3,944.3 L367.1,948.5 L368.9,952.8 L370.7,957.0 L372.5,961.2 L374.3,965.5 L376.0,969.7 L377.7,974.0 L379.4,978.2 L381.1,982.5 L382.7,986.7 L384.3,991.0 L386.0,995.2 L387.6,999.5 L389.1,1003.7 L390.7,1008.0 L392.2,1012.2 L393.8,1016.4 L395.3,1020.6 L396.8,1024.9 L398.3,1029.1 L399.7,1033.3 L401.2,1037.5 L402.6,1041.6 L404.0,1045.8 L405.4,1050.0 L406.8,1054.1 L408.2,1058.3 L409.6,1062.4 L410.9,1066.5 L412.2,1070.6 L413.6,1074.7 L414.9,1078.7" stroke="#2c6aa0" stroke-width="3"/>
<path d="M96.4,833.9 L107.5,835.2 L118.6,836.6 L129.7,838.0 L140.8,839.4 L151.9,840.8 L163.0,842.2 L174.1,843.6 L185.2,845.1 L196.3,846.6 L207.4,848.1 L218.5,849.6 L229.6,851.1 L240.7,852.6 L251.8,854.2 L262.9,855.8 L274.0,857.3 L285.1,858.9 L296.1,860.6 L307.2,862.2 L318.3,863.8 L329.4,865.5 L340.4,867.1 L351.5,868.8 L362.6,870.5 L373.7,872.2 L384.7,873.9 L395.8,875.7 L406.8,877.4 L417.9,879.2 L429.0,880.9 L440.0,882.7 L451.1,884.5 L462.1,886.3 L473.2,888.1 L484.3,889.9 L495.3,891.8 L506.4,893.6 L517.4,895.5 L528.5,897.3 L539.5,899.2 L550.5,901.1 L561.6,903.0 L572.6,904.9 L583.7,906.8 L594.7,908.7 L605.7,910.7 L616.8,912.6 L627.8,914.5 L638.9,916.5 L649.9,918.4 L660.9,920.4 L672.0,922.4 L683.0,924.4 L694.0,926.4 L705.0,928.3 L716.1,930.3 L727.1,932.4 L738.1,934.4 L749.2,936.4 L760.2,938.4 L771.2,940.4 L782.2,942.5 L793.3,944.5 L804.3,946.5 L815.3,948.6 L826.3,950.6 L837.3,952.7 L848.4,954.8 L859.4,956.8 L870.4,958.9 L881.4,961.0 L892.4,963.0 L903.4,965.1 L914.5,967.2 L925.5,969.3 L936.5,971.4 L947.5,973.4 L958.5,975.5 L969.5,977.6 L980.5,979.7 L991.6,981.8 L1002.6,983.9 L1013.6,986.0 L1024.6,988.1 L1035.6,990.2 L1046.6,992.2 L1057.6,994.3 L1068.7,996.4 L1079.7,998.5 L1090.7,1000.6 L1101.7,1002.7 L1112.7,1004.8 L1123.7,1006.9 L1134.7,1009.0 L1145.7,1011.0 L1156.8,1013.1 L1167.8,1015.2 L1178.8,1017.3 L1189.8,1019.4 L1200.8,1021.4 L1211.8,1023.5 L1222.8,1025.6 L1233.9,1027.6 L1244.9,1029.7 L1255.9,1031.7 L1266.9,1033.8 L1277.9,1035.8 L1288.9,1037.9 L1299.9,1039.9 L1311.0,1041.9 L1322.0,1044.0 L1333.0,1046.0 L1344.0,1048.0 L1355.0,1050.0 L1366.1,1052.0 L1377.1,1054.0 L1388.1,1056.0 L1399.1,1058.0 L1410.1,1060.0" stroke="#2c6aa0" stroke-width="3"/>
<path d="M96.2,845.3 L102.8,846.4 L109.5,847.5 L116.1,848.7 L122.8,849.8 L129.4,851.1 L136.0,852.3 L142.6,853.6 L149.2,854.9 L155.9,856.2 L162.4,857.5 L169.0,858.9 L175.6,860.3 L182.2,861.7 L188.8,863.1 L195.3,864.6 L201.9,866.1 L208.5,867.6 L215.0,869.2 L221.5,870.8 L228.1,872.3 L234.6,874.0 L241.1,875.6 L247.6,877.3 L254.1,879.0 L260.7,880.7 L267.1,882.4 L273.6,884.2 L280.1,885.9 L286.6,887.7 L293.1,889.6 L299.5,891.4 L306.0,893.3 L312.4,895.1 L318.9,897.1 L325.3,899.0 L331.8,900.9 L338.2,902.9 L344.6,904.9 L351.0,906.9 L357.4,908.9 L363.8,911.0 L370.2,913.1 L376.6,915.1 L383.0,917.3 L389.4,919.4 L395.7,921.5 L402.1,923.7 L408.5,925.9 L414.8,928.1 L421.2,930.3 L427.5,932.5 L433.9,934.8 L440.2,937.1 L446.5,939.4 L452.8,941.7 L459.1,944.0 L465.5,946.3 L471.8,948.7 L478.1,951.1 L484.3,953.4 L490.6,955.9 L496.9,958.3 L503.2,960.7 L509.5,963.2 L515.7,965.6 L522.0,968.1 L528.2,970.6 L534.5,973.1 L540.7,975.6 L547.0,978.2 L553.2,980.7 L559.4,983.3 L565.6,985.9 L571.9,988.5 L578.1,991.1 L584.3,993.7 L590.5,996.3 L596.7,999.0 L602.9,1001.6 L609.0,1004.3 L615.2,1007.0 L621.4,1009.7 L627.6,1012.4 L633.7,1015.1 L639.9,1017.8 L646.0,1020.6 L652.2,1023.3 L658.3,1026.1 L664.5,1028.9 L670.6,1031.6 L676.7,1034.4 L682.9,1037.2 L689.0,1040.0 L695.1,1042.9 L701.2,1045.7 L707.3,1048.5 L713.4,1051.4 L719.5,1054.2 L725.6,1057.1 L731.7,1060.0 L737.7,1062.8 L743.8,1065.7 L749.9,1068.6 L756.0,1071.5 L762.0,1074.4 L768.1,1077.4 L774.1,1080.3 L780.2,1083.2 L786.2,1086.1 L792.3,1089.1 L798.3,1092.0 L804.3,1095.0 L810.4,1097.9 L816.4,1100.9 L822.4,1103.9 L828.4,1106.9 L834.4,1109.8 L840.4,1112.8 L846.4,1115.8" stroke="#2c6aa0" stroke-width="3"/>
<path d="M96.3,868.0 L104.7,868.4 L113.2,868.8 L121.6,869.3 L130.1,869.7 L138.6,870.2 L147.0,870.7 L155.5,871.3 L163.9,871.8 L172.4,872.4 L180.9,873.0 L189.4,873.7 L197.8,874.3 L206.3,875.0 L214.8,875.7 L223.2,876.5 L231.7,877.2 L240.2,878.0 L248.7,878.9 L257.1,879.7 L265.6,880.6 L274.1,881.5 L282.6,882.4 L291.0,883.4 L299.5,884.4 L308.0,885.4 L316.4,886.4 L324.9,887.5 L333.3,888.6 L341.8,889.7 L350.2,890.9 L358.7,892.0 L367.1,893.3 L375.6,894.5 L384.0,895.8 L392.5,897.1 L400.9,898.4 L409.3,899.8 L417.7,901.2 L426.1,902.6 L434.6,904.1 L443.0,905.5 L451.4,907.1 L459.8,908.6 L468.1,910.2 L476.5,911.8 L484.9,913.5 L493.3,915.1 L501.6,916.9 L510.0,918.6 L518.3,920.4 L526.6,922.2 L535.0,924.0 L543.3,925.9 L551.6,927.8 L559.9,929.8 L568.2,931.8 L576.5,933.8 L584.8,935.8 L593.0,937.9 L601.3,940.0 L609.5,942.2 L617.7,944.4 L626.0,946.6 L634.2,948.9 L642.4,951.2 L650.6,953.5 L658.7,955.9 L666.9,958.3 L675.1,960.8 L683.2,963.2 L691.3,965.8 L699.5,968.3 L707.6,970.9 L715.6,973.6 L723.7,976.2 L731.8,978.9 L739.8,981.7 L747.9,984.5 L755.9,987.3 L763.9,990.2 L771.9,993.1 L779.9,996.1 L787.8,999.0 L795.8,1002.1 L803.7,1005.1 L811.6,1008.2 L819.5,1011.4 L827.4,1014.6 L835.3,1017.8 L843.1,1021.1 L850.9,1024.4 L858.7,1027.8 L866.5,1031.2 L874.3,1034.6 L882.1,1038.1 L889.8,1041.6 L897.5,1045.2 L905.2,1048.8 L912.9,1052.5 L920.6,1056.2 L928.2,1059.9 L935.9,1063.7 L943.5,1067.5 L951.1,1071.4 L958.6,1075.3 L966.2,1079.3 L973.7,1083.3 L981.2,1087.3 L988.7,1091.4 L996.1,1095.6 L1003.6,1099.8 L1011.0,1104.0 L1018.4,1108.3 L1025.8,1112.6 L1033.1,1117.0 L1040.4,1121.4 L1047.7,1125.9 L1055.0,1130.4 L1062.3,1135.0" stroke="#2c6aa0" stroke-width="3"/>
<path d="M96.2,896.9 L102.2,897.5 L108.3,898.1 L114.3,898.8 L120.3,899.5 L126.3,900.2 L132.3,900.9 L138.3,901.7 L144.3,902.4 L150.3,903.3 L156.3,904.1 L162.3,905.0 L168.3,905.9 L174.3,906.8 L180.2,907.7 L186.2,908.7 L192.2,909.7 L198.1,910.7 L204.1,911.7 L210.1,912.8 L216.0,913.9 L221.9,915.0 L227.9,916.1 L233.8,917.3 L239.8,918.5 L245.7,919.7 L251.6,920.9 L257.5,922.2 L263.4,923.5 L269.3,924.8 L275.2,926.1 L281.1,927.4 L287.0,928.8 L292.9,930.2 L298.8,931.6 L304.7,933.1 L310.6,934.5 L316.4,936.0 L322.3,937.5 L328.2,939.0 L334.0,940.6 L339.9,942.1 L345.7,943.7 L351.5,945.3 L357.4,946.9 L363.2,948.6 L369.0,950.3 L374.9,951.9 L380.7,953.6 L386.5,955.4 L392.3,957.1 L398.1,958.9 L403.9,960.7 L409.7,962.5 L415.4,964.3 L421.2,966.1 L427.0,968.0 L432.7,969.9 L438.5,971.8 L444.3,973.7 L450.0,975.6 L455.8,977.6 L461.5,979.5 L467.2,981.5 L472.9,983.5 L478.7,985.6 L484.4,987.6 L490.1,989.7 L495.8,991.7 L501.5,993.8 L507.2,995.9 L512.9,998.0 L518.5,1000.2 L524.2,1002.3 L529.9,1004.5 L535.5,1006.7 L541.2,1008.9 L546.9,1011.1 L552.5,1013.3 L558.1,1015.6 L563.8,1017.8 L569.4,1020.1 L575.0,1022.4 L580.6,1024.7 L586.2,1027.0 L591.8,1029.4 L597.4,1031.7 L603.0,1034.1 L608.6,1036.5 L614.2,1038.8 L619.7,1041.2 L625.3,1043.7 L630.8,1046.1 L636.4,1048.5 L641.9,1051.0 L647.5,1053.4 L653.0,1055.9 L658.5,1058.4 L664.0,1060.9 L669.5,1063.4 L675.1,1066.0 L680.5,1068.5 L686.0,1071.0 L691.5,1073.6 L697.0,1076.2 L702.5,1078.8 L707.9,1081.4 L713.4,1084.0 L718.8,1086.6 L724.3,1089.2 L729.7,1091.8 L735.1,1094.5 L740.5,1097.1 L746.0,1099.8 L751.4,1102.5 L756.8,1105.2 L762.1,1107.9 L767.5,1110.6 L772.9,1113.3 L778.3,1116.0" stroke="#2c6aa0" stroke-width="3"/>
<path d="M96.1,929.1 L107.2,931.3 L118.2,933.5 L129.3,935.7 L140.3,938.0 L151.4,940.2 L162.4,942.4 L173.5,944.6 L184.5,946.9 L195.6,949.1 L206.6,951.3 L217.7,953.6 L228.7,955.8 L239.8,958.0 L250.8,960.3 L261.8,962.5 L272.9,964.8 L283.9,967.0 L295.0,969.3 L306.0,971.5 L317.1,973.8 L328.1,976.0 L339.2,978.3 L350.2,980.6 L361.3,982.8 L372.3,985.1 L383.3,987.4 L394.4,989.6 L405.4,991.9 L416.5,994.2 L427.5,996.4 L438.5,998.7 L449.6,1001.0 L460.6,1003.3 L471.7,1005.6 L482.7,1007.8 L493.8,1010.1 L504.8,1012.4 L515.8,1014.7 L526.9,1017.0 L537.9,1019.3 L549.0,1021.6 L560.0,1023.8 L571.0,1026.1 L582.1,1028.4 L593.1,1030.7 L604.2,1033.0 L615.2,1035.3 L626.2,1037.6 L637.3,1039.9 L648.3,1042.2 L659.3,1044.5 L670.4,1046.8 L681.4,1049.1 L692.5,1051.4 L703.5,1053.7 L714.5,1056.0 L725.6,1058.3 L736.6,1060.6 L747.6,1062.9 L758.7,1065.2 L769.7,1067.5 L780.8,1069.8 L791.8,1072.1 L802.8,1074.4 L813.9,1076.7 L824.9,1079.1 L835.9,1081.4 L847.0,1083.7 L858.0,1086.0 L869.1,1088.3 L880.1,1090.6 L891.1,1092.9 L902.2,1095.2 L913.2,1097.5 L924.3,1099.8 L935.3,1102.1 L946.3,1104.4 L957.4,1106.7 L968.4,1109.0 L979.4,1111.3 L990.5,1113.6 L1001.5,1115.9 L1012.6,1118.3 L1023.6,1120.6 L1034.6,1122.9 L1045.7,1125.2 L1056.7,1127.5 L1067.8,1129.8 L1078.8,1132.1 L1089.8,1134.4 L1100.9,1136.7 L1111.9,1139.0 L1123.0,1141.3 L1134.0,1143.6 L1145.0,1145.9 L1156.1,1148.1 L1167.1,1150.4 L1178.2,1152.7 L1189.2,1155.0 L1200.2,1157.3 L1211.3,1159.6 L1222.3,1161.9 L1233.4,1164.2 L1244.4,1166.5 L1255.5,1168.8 L1266.5,1171.0 L1277.5,1173.3 L1288.6,1175.6 L1299.6,1177.9 L1310.7,1180.2 L1321.7,1182.4 L1332.8,1184.7 L1343.8,1187.0 L1354.9,1189.2 L1365.9,1191.5 L1376.9,1193.8 L1388.0,1196.1 L1399.0,1198.3 L1410.1,1200.6" stroke="#2c6aa0" stroke-width="3"/>
<path d="M95.9,991.6 L100.3,991.1 L104.8,990.7 L109.2,990.3 L113.6,989.9 L118.1,989.6 L122.5,989.3 L126.9,989.0 L131.4,988.7 L135.8,988.5 L140.2,988.3 L144.7,988.1 L149.1,988.0 L153.5,987.8 L157.9,987.7 L162.4,987.7 L166.8,987.6 L171.2,987.6 L175.7,987.6 L180.1,987.6 L184.5,987.7 L188.9,987.8 L193.4,987.9 L197.8,988.0 L202.2,988.2 L206.6,988.4 L211.1,988.6 L215.5,988.8 L219.9,989.0 L224.3,989.3 L228.7,989.6 L233.2,989.9 L237.6,990.3 L242.0,990.6 L246.4,991.0 L250.8,991.4 L255.2,991.9 L259.6,992.3 L264.0,992.8 L268.4,993.3 L272.8,993.8 L277.2,994.3 L281.6,994.9 L286.0,995.5 L290.4,996.1 L294.8,996.7 L299.2,997.3 L303.6,998.0 L308.0,998.7 L312.4,999.4 L316.8,1000.1 L321.1,1000.8 L325.5,1001.6 L329.9,1002.4 L334.3,1003.2 L338.6,1004.0 L343.0,1004.8 L347.4,1005.6 L351.7,1006.5 L356.1,1007.4 L360.5,1008.3 L364.8,1009.2 L369.2,1010.1 L373.5,1011.1 L377.9,1012.0 L382.2,1013.0 L386.5,1014.0 L390.9,1015.0 L395.2,1016.0 L399.6,1017.1 L403.9,1018.1 L408.2,1019.2 L412.5,1020.3 L416.8,1021.4 L421.2,1022.5 L425.5,1023.6 L429.8,1024.7 L434.1,1025.9 L438.4,1027.1 L442.7,1028.2 L447.0,1029.4 L451.3,1030.6 L455.5,1031.9 L459.8,1033.1 L464.1,1034.3 L468.4,1035.6 L472.6,1036.8 L476.9,1038.1 L481.2,1039.4 L485.4,1040.7 L489.7,1042.0 L493.9,1043.3 L498.2,1044.7 L502.4,1046.0 L506.6,1047.3 L510.9,1048.7 L515.1,1050.1 L519.3,1051.4 L523.5,1052.8 L527.7,1054.2 L531.9,1055.6 L536.1,1057.0 L540.3,1058.5 L544.5,1059.9 L548.7,1061.3 L552.9,1062.8 L557.1,1064.2 L561.2,1065.7 L565.4,1067.2 L569.6,1068.6 L573.7,1070.1 L577.9,1071.6 L582.0,1073.1 L586.2,1074.6 L590.3,1076.1 L594.4,1077.6 L598.6,1079.1 L602.7,1080.6 L606.8,1082.2 L610.9,1083.7" stroke="#2c6aa0" stroke-width="3"/>
</g>
<g stroke="#666666" stroke-width="2" fill="none"><line x1="192" y1="631" x2="301" y2="591"/><line x1="433" y1="793" x2="546" y2="751"/><line x1="495" y1="876" x2="609" y2="832"/><line x1="355" y1="1084" x2="400" y2="1042"/><line x1="544" y1="1120" x2="587" y2="1079"/><line x1="737" y1="1159" x2="779" y2="1117"/><line x1="627" y1="1012" x2="748" y2="964"/><line x1="940" y1="1063" x2="1015" y2="1034"/><line x1="1146" y1="1142" x2="1231" y2="1115"/></g>
<rect x="95.5" y="384.5" width="1315.0" height="845.0" fill="none" stroke="#1e1e1e" stroke-width="3"/>
<g class="t"><text x="28.5" y="351.0" font-size="30.5" text-anchor="start" textLength="67.5" lengthAdjust="spacingAndGlyphs">H(m)</text><text x="283.0" y="358.0" font-size="30.0" text-anchor="start" textLength="546.0" lengthAdjust="spacingAndGlyphs">Performance chart at n=2850 r/min(50hz)</text><text x="1128.0" y="359.0" font-size="30.0" text-anchor="start" textLength="182.0" lengthAdjust="spacingAndGlyphs">Total head(m)</text><text x="65.0" y="393.8" font-size="30.5" text-anchor="middle" textLength="33.5" lengthAdjust="spacingAndGlyphs">27</text><text x="65.0" y="487.7" font-size="30.5" text-anchor="middle" textLength="33.5" lengthAdjust="spacingAndGlyphs">24</text><text x="65.0" y="581.6" font-size="30.5" text-anchor="middle" textLength="33.5" lengthAdjust="spacingAndGlyphs">21</text><text x="65.0" y="675.5" font-size="30.5" text-anchor="middle" textLength="33.5" lengthAdjust="spacingAndGlyphs">18</text><text x="65.0" y="769.4" font-size="30.5" text-anchor="middle" textLength="33.5" lengthAdjust="spacingAndGlyphs">15</text><text x="65.0" y="863.2" font-size="30.5" text-anchor="middle" textLength="33.5" lengthAdjust="spacingAndGlyphs">12</text><text x="64.3" y="957.1" font-size="30.0" text-anchor="middle">9</text><text x="64.3" y="1051.0" font-size="30.0" text-anchor="middle">6</text><text x="64.3" y="1144.9" font-size="30.0" text-anchor="middle">3</text><g class="lab"><text x="309.5" y="591.0" font-size="29.5" text-anchor="start" textLength="126.0" lengthAdjust="spacingAndGlyphs">8-18-0.75</text><text x="310.3" y="633.0" font-size="29.5" text-anchor="start" textLength="142.0" lengthAdjust="spacingAndGlyphs">10-16-0.75</text><text x="482.5" y="742.0" font-size="29.5" text-anchor="start" textLength="129.0" lengthAdjust="spacingAndGlyphs">25-12-1.5</text><text x="620.0" y="843.0" font-size="29.5" text-anchor="start" textLength="124.0" lengthAdjust="spacingAndGlyphs">15-14-1.1</text><text x="620.0" y="877.0" font-size="29.5" text-anchor="start" textLength="124.0" lengthAdjust="spacingAndGlyphs">14-16-1.1</text><text x="208.8" y="1094.0" font-size="29.5" text-anchor="start" textLength="142.0" lengthAdjust="spacingAndGlyphs">10-12-0.55</text><text x="424.5" y="1147.5" font-size="29.5" text-anchor="start" textLength="124.0" lengthAdjust="spacingAndGlyphs">15-7-0.55</text><text x="646.5" y="1187.5" font-size="29.5" text-anchor="start" textLength="125.0" lengthAdjust="spacingAndGlyphs">25-6-0.75</text><text x="0" y="0" font-size="28.5" stroke-width="0.45" transform="translate(753,967.5) rotate(20.5) skewX(-4)">15-10-0.75</text><text x="0" y="0" font-size="29.5" stroke-width="0.45" transform="translate(995,1024.5) rotate(16.5)">30-6-0.75</text><text x="0" y="0" font-size="29.5" stroke-width="0.45" transform="translate(1133,995.5) rotate(13.5) skewX(-4)">40-9-1.5</text><text x="0" y="0" font-size="29.5" stroke-width="0.45" transform="translate(1178,1083) rotate(26.5) skewX(-3)">40-6-1.1</text></g><text x="68.0" y="1269.0" font-size="30.0" text-anchor="middle">0</text><text x="279.0" y="1269.0" font-size="30.0" text-anchor="middle">8</text><text x="466.5" y="1269.0" font-size="30.0" text-anchor="middle">16</text><text x="657.5" y="1269.0" font-size="30.0" text-anchor="middle">24</text><text x="846.7" y="1269.0" font-size="30.0" text-anchor="middle">32</text><text x="1035.5" y="1269.0" font-size="30.0" text-anchor="middle">40</text><text x="1223.8" y="1269.0" font-size="30.0" text-anchor="middle">48</text><g clip-path="url(#rclip)"><text x="1391.5" y="1269.0" font-size="30.0" text-anchor="start">l/min</text></g><text x="90.0" y="1358.0" font-size="30.0" text-anchor="middle">0</text><text x="369.0" y="1358.0" font-size="30.0" text-anchor="middle">200</text><text x="653.3" y="1358.0" font-size="30.0" text-anchor="middle">400</text><text x="936.0" y="1358.0" font-size="30.0" text-anchor="middle">600</text><text x="1221.0" y="1358.0" font-size="30.0" text-anchor="middle">800</text><text x="1393" y="1351.5" font-size="30" textLength="59.5" lengthAdjust="spacingAndGlyphs">m<tspan font-size="22.4" dy="-6.3">³</tspan><tspan dy="6.3">/h</tspan></text></g>
<rect x="305.5" y="607.5" width="156.5" height="35.5" fill="none" stroke="#b82a2c" stroke-width="3"/>
<g stroke="#b5b5b5" stroke-width="2.2" fill="none"><line x1="90" y1="1301" x2="1411" y2="1301"/><line x1="90.0" y1="1301" x2="90.0" y2="1319"/><line x1="372.7" y1="1301" x2="372.7" y2="1319"/><line x1="658.3" y1="1301" x2="658.3" y2="1319"/><line x1="941.0" y1="1301" x2="941.0" y2="1319"/><line x1="1224.0" y1="1301" x2="1224.0" y2="1319"/></g>
</svg></div>
</body></html>
